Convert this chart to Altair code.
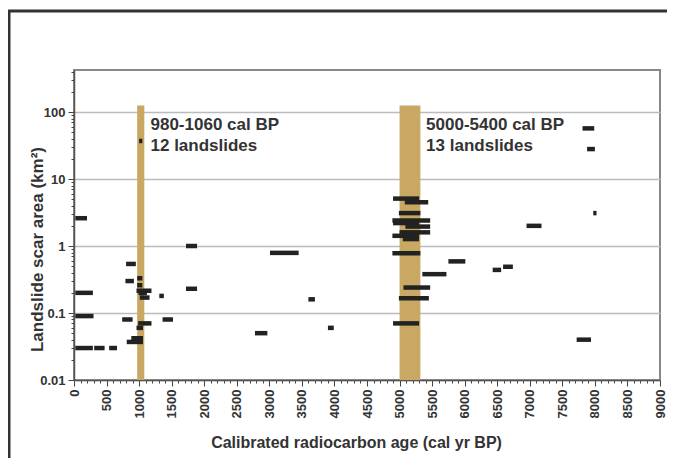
import altair as alt
import pandas as pd

# Landslide age ranges (cal yr BP) and scar areas (km2)
seg_start = [20, 20, 20, 20, 310, 540, 800, 790, 740,
             1000, 970, 970, 960, 990, 1010, 1310, 1360, 985, 960, 880, 810,
             1720, 1720, 2780, 3010, 3600, 3900,
             4900, 5080, 4990, 4890, 4900, 5090, 5000, 4890, 5050, 4890, 5060, 4990, 4900,
             5350, 5750, 6430, 6590, 6950, 7720, 7810, 7880, 7975]
seg_end = [200, 290, 300, 290, 470, 660, 950, 920, 900,
           1050, 1050, 1050, 1190, 1120, 1160, 1380, 1520, 1190, 1060, 1060, 1060,
           1890, 1890, 2970, 3450, 3700, 3990,
           5300, 5440, 5320, 5470, 5300, 5470, 5470, 5300, 5300, 5320, 5470, 5450, 5300,
           5720, 6010, 6560, 6740, 7180, 7940, 7990, 8000, 8025]
seg_area = [2.6, 0.2, 0.09, 0.03, 0.03, 0.03, 0.54, 0.3, 0.08,
            37, 0.33, 0.26, 0.215, 0.2, 0.17, 0.18, 0.08, 0.07, 0.06, 0.042, 0.037,
            1.0, 0.23, 0.05, 0.79, 0.16, 0.06,
            5.1, 4.5, 3.1, 2.4, 2.2, 1.95, 1.6, 1.42, 1.27, 0.78, 0.24, 0.166, 0.07,
            0.38, 0.59, 0.44, 0.49, 2.0, 0.04, 57, 28, 3.1]

# Highlighted clusters
band_start = [970, 5000]
band_end = [1080, 5320]
band_top = [125, 125]
band_bottom = [0.01, 0.01]

# Annotations
note_x = [1175, 1175, 5408, 5408]
note_y = [64, 31, 65, 31]
note_text = ["980-1060 cal BP", "12 landslides", "5000-5400 cal BP", "13 landslides"]

x_ticks = list(range(0, 9001, 100))
y_ticks = [0.01, 0.02, 0.03, 0.04, 0.05, 0.06, 0.07, 0.08, 0.09,
           0.1, 0.2, 0.3, 0.4, 0.5, 0.6, 0.7, 0.8, 0.9,
           1, 2, 3, 4, 5, 6, 7, 8, 9,
           10, 20, 30, 40, 50, 60, 70, 80, 90,
           100, 200, 300, 400]

segs = pd.DataFrame({"start": seg_start, "end": seg_end, "area": seg_area})
bands = pd.DataFrame({"start": band_start, "end": band_end, "area": band_top, "area2": band_bottom})
notes = pd.DataFrame({"start": note_x, "area": note_y, "text": note_text})

FONT = "Liberation Sans"
TXT = "#333333"

xscale = alt.Scale(domain=[0, 9000], nice=False, zero=False)
yscale = alt.Scale(type="log", domain=[0.01, 424], nice=False)

is_decade = "abs(log(datum.value)/LN10 - round(log(datum.value)/LN10)) < 0.001"

xaxis = alt.Axis(
    values=x_ticks,
    labelExpr="datum.value % 500 == 0 ? format(datum.value, 'd') : ''",
    labelAngle=-90, labelOverlap=False, labelFlush=False, labelBound=False,
    labelFont=FONT, labelFontSize=13, labelFontWeight="bold", labelColor=TXT, labelPadding=3,
    tickSize={"condition": {"test": "datum.value % 500 == 0", "value": 6}, "value": 3},
    tickColor="#444", domainColor="#555", domainWidth=1.5,
    grid=False,
    title="Calibrated radiocarbon age (cal yr BP)",
    titleFont=FONT, titleFontSize=16, titleFontWeight="bold", titleColor=TXT,
    titleX=282, titleY=62, titleAlign="center", titleBaseline="middle",
)
yaxis = alt.Axis(
    values=y_ticks,
    labelExpr=f"({is_decade}) ? format(datum.value, '~g') : ''",
    labelOverlap=False, labelFlush=False, labelBound=False,
    labelFont=FONT, labelFontSize=13, labelFontWeight="bold", labelColor=TXT, labelPadding=3,
    tickSize={"condition": {"test": is_decade, "value": 6}, "value": 3},
    tickColor="#444", domainColor="#555", domainWidth=1.5,
    grid=True, gridColor="#bbbbbb", gridWidth=1.5,
    gridOpacity={"condition": {"test": is_decade, "value": 1}, "value": 0},
    title="Landslide scar area (km²)",
    titleFont=FONT, titleFontSize=17, titleFontWeight="bold", titleColor=TXT,
    titleX=-37, titleY=179, titleAlign="center", titleBaseline="middle", titleAngle=270,
)

X = alt.X("start:Q", scale=xscale, axis=xaxis)
Y = alt.Y("area:Q", scale=yscale, axis=yaxis)

frame = alt.Chart(pd.DataFrame({"k": [0]})).mark_rect(
    fill="white", fillOpacity=0, stroke="#333333", strokeWidth=3
).encode(
    x=alt.value(-65), x2=alt.value(640), y=alt.value(-59), y2=alt.value(430)
)

band_layer = alt.Chart(bands).mark_rect(color="#C9A863").encode(
    x=X, x2="end:Q", y=Y, y2="area2:Q"
)

seg_layer = alt.Chart(segs).mark_rule(color="#222222", strokeWidth=4.5).encode(
    x=X, x2="end:Q", y=Y
)

text_layer = alt.Chart(notes).mark_text(
    align="left", baseline="middle", font=FONT, fontSize=17, fontWeight="bold", color=TXT
).encode(x=X, y=Y, text="text:N")

chart = alt.layer(frame, band_layer, seg_layer, text_layer).properties(
    width=586, height=310,
    padding={"left": 66, "top": 62, "right": 7, "bottom": 78},
    autosize=alt.AutoSizeParams(type="none"),
    background="white",
).configure_view(stroke="#888888", strokeWidth=2)

chart.save("out.html", embed_options={"renderer": "svg", "actions": False})
